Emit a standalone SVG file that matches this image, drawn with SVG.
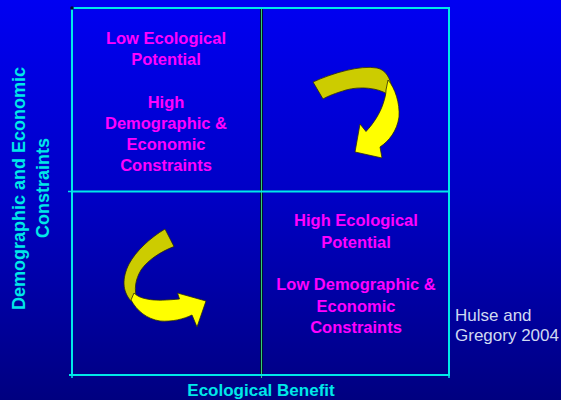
<svg xmlns="http://www.w3.org/2000/svg" width="561" height="400" viewBox="0 0 561 400">
  <defs>
    <linearGradient id="bg" x1="0" y1="0" x2="0" y2="1">
      <stop offset="0" stop-color="#0000f2"/>
      <stop offset="0.5" stop-color="#0000c4"/>
      <stop offset="1" stop-color="#000080"/>
    </linearGradient>
    <style>
      .frame { stroke: #00e8e8; stroke-width: 2; fill: none; }
      .tick { stroke: #00e8e8; stroke-width: 1.5; }
      .quad { font-family: "Liberation Sans", Arial, sans-serif; font-weight: bold; font-size: 16.5px; fill: #ff00ff; text-anchor: middle; }
      .axis { font-family: "Liberation Sans", Arial, sans-serif; font-weight: bold; fill: #00e8e8; text-anchor: middle; }
      .credit { font-family: "Liberation Sans", Arial, sans-serif; font-size: 17px; fill: #cfd9f2; }
      .face { fill: #ffff00; stroke: #2a2a10; stroke-width: 0.8; stroke-linejoin: round; }
      .back { fill: #cccc00; stroke: #2a2a10; stroke-width: 0.8; stroke-linejoin: round; }
    </style>
  </defs>

  <rect x="0" y="0" width="561" height="400" fill="url(#bg)"/>

  <!-- quadrant grid -->
  <g id="grid">
    <line x1="261.5" y1="8" x2="261.5" y2="375" stroke="#001030" stroke-width="3"/>
    <line x1="261.5" y1="8" x2="261.5" y2="378" stroke="#33cc77" stroke-width="1"/>
    <line class="frame" x1="72" y1="191.5" x2="449" y2="191.5"/>
    <line class="frame" x1="72" y1="8" x2="450" y2="8"/>
    <line class="frame" x1="72" y1="8" x2="72" y2="375"/>
    <line class="frame" x1="449" y1="8" x2="449" y2="375"/>
    <line class="frame" x1="69" y1="375" x2="450" y2="375"/>
    <line class="tick" x1="68" y1="191.5" x2="72" y2="191.5"/>
    <line class="tick" x1="72" y1="375" x2="72" y2="378"/>
    <line class="tick" x1="449" y1="375" x2="449" y2="378"/>
    <circle cx="72" cy="8" r="1.8" fill="#000833"/>
  </g>

  <!-- quadrant descriptions -->
  <g id="quadrant-top-left">
    <text class="quad" x="166" y="44">Low Ecological</text>
    <text class="quad" x="166" y="65.2">Potential</text>
    <text class="quad" x="166" y="107.6">High</text>
    <text class="quad" x="166" y="128.8">Demographic &amp;</text>
    <text class="quad" x="166" y="150">Economic</text>
    <text class="quad" x="166" y="171.2">Constraints</text>
  </g>

  <g id="quadrant-bottom-right">
    <text class="quad" x="356" y="226">High Ecological</text>
    <text class="quad" x="356" y="247.5">Potential</text>
    <text class="quad" x="356" y="290">Low Demographic &amp;</text>
    <text class="quad" x="356" y="311.5">Economic</text>
    <text class="quad" x="356" y="333">Constraints</text>
  </g>

  <!-- curved arrows -->
  <g id="connectors">
    <g id="arrow-upper">
      <path class="back" d="M313,82 C333,73 360,65 377,68 C386,70 390,78 392,88 L387,94 C378,88 360,86 346,90 C336,93 328,96 323,99 Z"/>
      <path class="face" d="M388,80 C395,88 400,103 399,117 C397,131 389,141 380,147 L382,158 L355,152 L360,124 L366,131.5 C374,123 380,113 383,104 C385,98 386,94 386,90 Z"/>
    </g>
    <g id="arrow-lower">
      <path class="back" d="M165,229 C150,238 136,251 129,264 C122,278 122,291 131,301 L137,299 C134,290 135,280 141,270 C148,260 160,252 174,246.5 Z"/>
      <path class="face" d="M131,300 C137,311 147,319 160,321 C172,322 184,319 192,315 L197,327 L206,301 L177.5,293 L179.5,299 C168,300 156,301 147,299 C141,298 137,296 134,293 Z"/>
    </g>
  </g>

  <!-- axis titles -->
  <g id="axis-y">
    <text class="axis" font-size="18" transform="translate(24.5,188.5) rotate(-90)">Demographic and Economic</text>
    <text class="axis" font-size="18" transform="translate(49,188) rotate(-90)">Constraints</text>
  </g>
  <g id="axis-x">
    <text class="axis" font-size="17" x="261" y="396">Ecological Benefit</text>
  </g>

  <g id="credit">
    <text class="credit" x="455" y="321">Hulse and</text>
    <text class="credit" x="455" y="341">Gregory 2004</text>
  </g>
</svg>
